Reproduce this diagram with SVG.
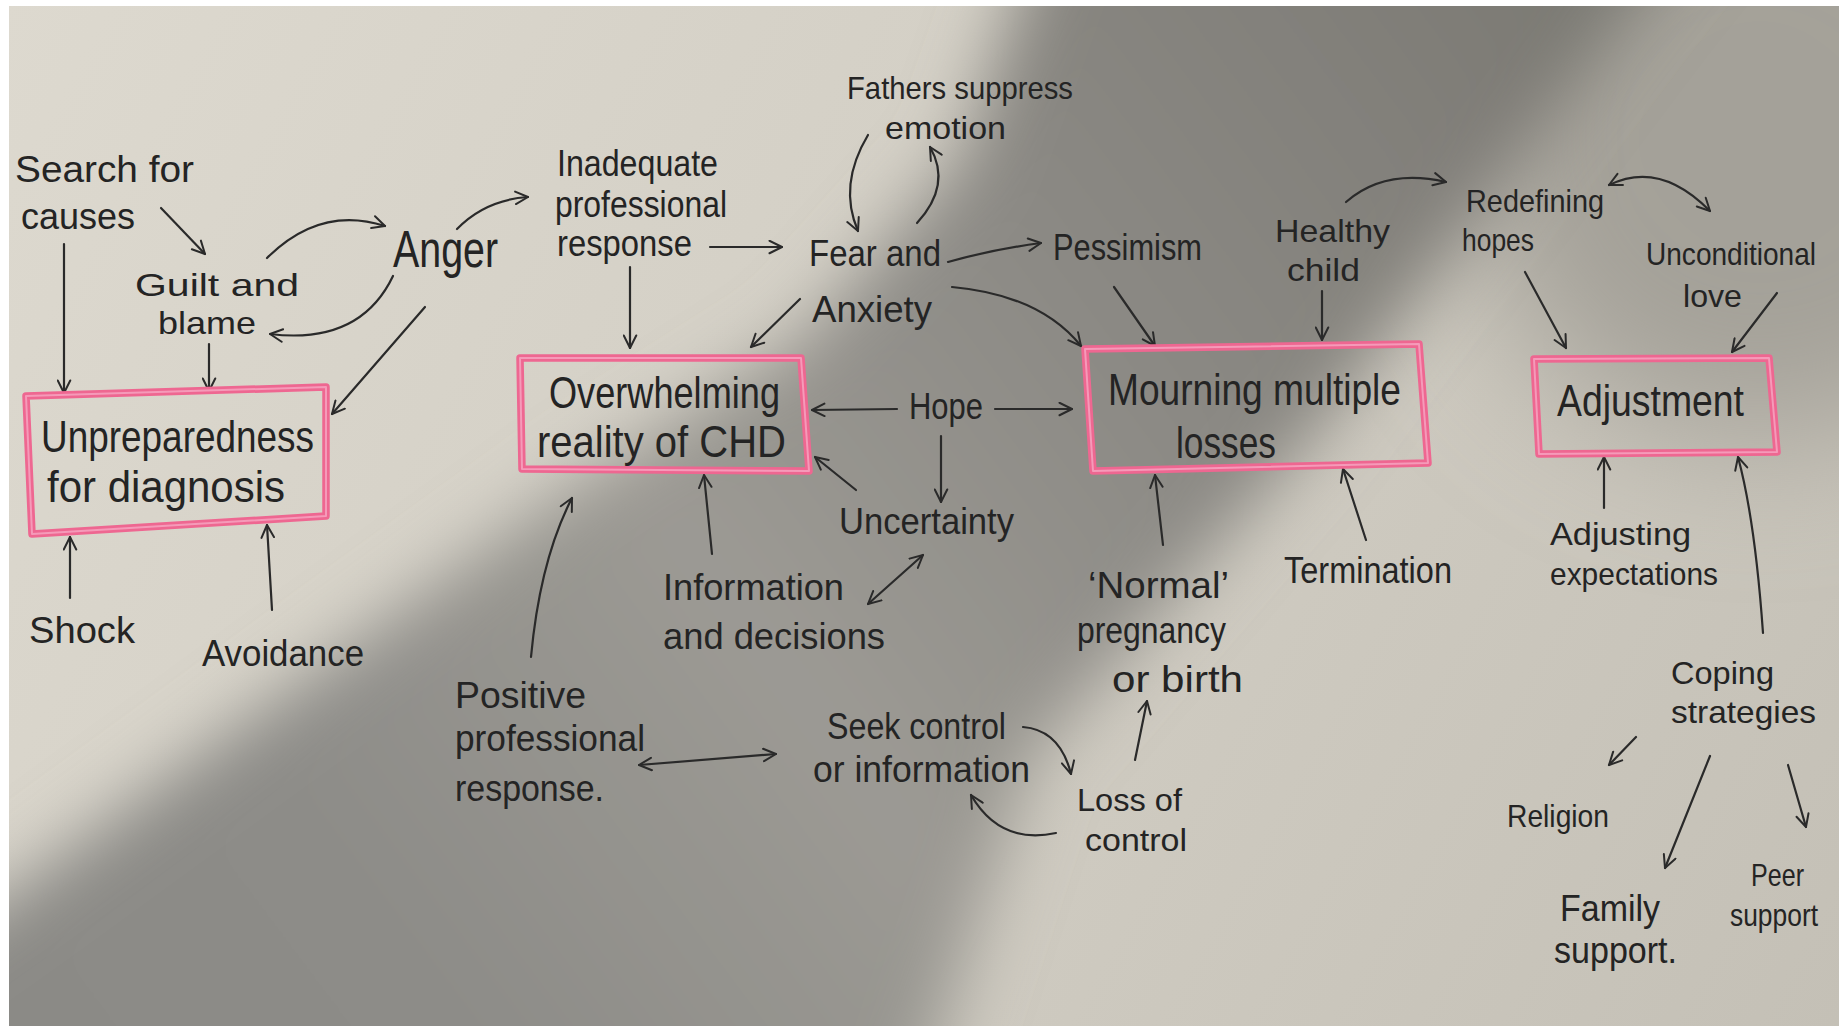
<svg xmlns="http://www.w3.org/2000/svg" width="1839" height="1026" viewBox="0 0 1839 1026">
  <defs>
    <style>
      .t { font-family: "Liberation Sans", Arial, sans-serif; font-size: 36px; fill: #242424; }
      .s { font-size: 32px; }
      .bx { font-size: 44px; }
      .big { font-size: 52px; }
      .frame { fill: none; stroke: #ee6791; stroke-width: 7.5; stroke-linejoin: round; }
      .frame-hi { fill: none; stroke: #f59ab9; stroke-width: 2; stroke-linejoin: round; }
      .c { fill: none; stroke: #2a2a2a; stroke-width: 2.2; stroke-linecap: round; marker-end: url(#ah); }
      .c2 { marker-start: url(#ah); }
    </style>
    <marker id="ah" viewBox="0 0 12 12" refX="11" refY="6" markerWidth="15" markerHeight="15" markerUnits="userSpaceOnUse" orient="auto-start-reverse">
      <path d="M1,1 L11,6 L1,11" fill="none" stroke="#2a2a2a" stroke-width="1.6" stroke-linecap="round" stroke-linejoin="round"/>
    </marker>
    <linearGradient id="paper" gradientUnits="userSpaceOnUse" x1="0" y1="0" x2="1839" y2="1026">
      <stop offset="0" stop-color="#ddd9cf"/>
      <stop offset="0.5" stop-color="#d2cec4"/>
      <stop offset="1" stop-color="#c4c0b6"/>
    </linearGradient>
    <linearGradient id="shade" gradientUnits="userSpaceOnUse" x1="1500" y1="-100" x2="0" y2="1026">
      <stop offset="0" stop-color="#7c7a74"/>
      <stop offset="0.3" stop-color="#8b8984"/>
      <stop offset="0.55" stop-color="#9c9a94"/>
      <stop offset="0.8" stop-color="#8d8c88"/>
      <stop offset="1" stop-color="#8b8a86"/>
    </linearGradient>
    <filter id="soft" x="-20%" y="-20%" width="140%" height="140%">
      <feGaussianBlur stdDeviation="34"/>
    </filter>
    <filter id="haze" x="-50%" y="-50%" width="200%" height="200%">
      <feGaussianBlur stdDeviation="70"/>
    </filter>
  </defs>

  <!-- sheet of paper with a soft diagonal shadow across it -->
  <rect x="0" y="0" width="1839" height="1026" fill="#ffffff"/>
  <rect x="9" y="6" width="1830" height="1020" fill="url(#paper)"/>
  <svg x="9" y="6" width="1830" height="1020" viewBox="9 6 1830 1020" overflow="hidden">
    <ellipse cx="1760" cy="140" rx="300" ry="300" fill="#a4a199" filter="url(#haze)"/>
    <polygon points="1070,-150 1760,-150 1640,0 1317,430 1030,760 900,1160 -200,1160 -200,1040 0,900 330,660 580,480 800,340 960,160" fill="url(#shade)" filter="url(#soft)"/>
  </svg>

  <!-- connectors -->
  <g id="connectors">
    <path class="c" d="M161,208 L205,254"/>
    <path class="c" d="M64,244 L64,393"/>
    <path class="c" d="M209,344 L209,391"/>
    <path class="c" d="M267,258 Q320,205 385,226"/>
    <path class="c" d="M393,276 Q360,345 270,334"/>
    <path class="c" d="M457,229 Q485,200 528,197"/>
    <path class="c" d="M425,307 L332,414"/>
    <path class="c" d="M70,598 L70,537"/>
    <path class="c" d="M272,610 L267,525"/>
    <path class="c" d="M630,267 L630,348"/>
    <path class="c" d="M710,247 L782,247"/>
    <path class="c" d="M868,135 Q838,185 858,231"/>
    <path class="c" d="M917,223 Q952,185 930,147"/>
    <path class="c" d="M948,262 Q990,250 1041,243"/>
    <path class="c" d="M952,287 Q1040,295 1081,346"/>
    <path class="c" d="M800,299 L751,347"/>
    <path class="c" d="M897,409 L812,410"/>
    <path class="c" d="M995,409 L1072,409"/>
    <path class="c" d="M941,436 L941,502"/>
    <path class="c" d="M856,490 L815,457"/>
    <path class="c" d="M712,554 L704,475"/>
    <path class="c c2" d="M868,604 L923,555"/>
    <path class="c" d="M531,657 Q540,560 572,498"/>
    <path class="c c2" d="M639,765 L776,754"/>
    <path class="c" d="M1023,727 Q1060,730 1071,774"/>
    <path class="c" d="M1056,833 Q1000,845 971,795"/>
    <path class="c" d="M1135,760 L1147,701"/>
    <path class="c" d="M1163,545 L1155,475"/>
    <path class="c" d="M1114,287 L1155,346"/>
    <path class="c" d="M1366,540 L1343,469"/>
    <path class="c" d="M1322,291 L1322,340"/>
    <path class="c" d="M1346,202 Q1385,168 1446,182"/>
    <path class="c c2" d="M1609,185 Q1660,160 1710,211"/>
    <path class="c" d="M1525,272 L1566,348"/>
    <path class="c" d="M1777,293 L1732,352"/>
    <path class="c" d="M1604,508 L1604,457"/>
    <path class="c" d="M1763,633 Q1755,520 1738,457"/>
    <path class="c" d="M1636,737 L1609,765"/>
    <path class="c" d="M1710,756 L1665,868"/>
    <path class="c" d="M1788,765 L1806,827"/>
  </g>

  <!-- boxed themes -->
  <g id="unpreparedness">
    <polygon class="frame" points="26,396 326,387 326,516 32,534"/>
    <polygon class="frame-hi" points="26,396 326,387 326,516 32,534"/>
    <text class="t bx" x="41" y="452" textLength="273" lengthAdjust="spacingAndGlyphs">Unpreparedness</text>
    <text class="t bx" x="47" y="502" textLength="238" lengthAdjust="spacingAndGlyphs">for diagnosis</text>
  </g>
  <g id="overwhelming">
    <polygon class="frame" points="520,358 801,358 809,471 522,469"/>
    <polygon class="frame-hi" points="520,358 801,358 809,471 522,469"/>
    <text class="t bx" x="549" y="408" textLength="231" lengthAdjust="spacingAndGlyphs">Overwhelming</text>
    <text class="t bx" x="537" y="457" textLength="249" lengthAdjust="spacingAndGlyphs">reality of CHD</text>
  </g>
  <g id="mourning">
    <polygon class="frame" points="1085,349 1419,344 1428,463 1093,471"/>
    <polygon class="frame-hi" points="1085,349 1419,344 1428,463 1093,471"/>
    <text class="t bx" x="1108" y="405" textLength="293" lengthAdjust="spacingAndGlyphs">Mourning multiple</text>
    <text class="t bx" x="1176" y="458" textLength="100" lengthAdjust="spacingAndGlyphs">losses</text>
  </g>
  <g id="adjustment">
    <polygon class="frame" points="1534,359 1769,358 1777,452 1539,454"/>
    <polygon class="frame-hi" points="1534,359 1769,358 1777,452 1539,454"/>
    <text class="t bx" x="1557" y="416" textLength="187" lengthAdjust="spacingAndGlyphs">Adjustment</text>
  </g>

  <!-- sub-themes -->
  <g id="search-causes">
    <text class="t" x="15" y="182" textLength="179" lengthAdjust="spacingAndGlyphs">Search for</text>
    <text class="t" x="21" y="229" textLength="114" lengthAdjust="spacingAndGlyphs">causes</text>
  </g>
  <g id="guilt-blame">
    <text class="t s" x="135" y="296" textLength="164" lengthAdjust="spacingAndGlyphs">Guilt and</text>
    <text class="t s" x="158" y="334" textLength="98" lengthAdjust="spacingAndGlyphs">blame</text>
  </g>
  <g id="anger">
    <text class="t big" x="393" y="267" textLength="105" lengthAdjust="spacingAndGlyphs">Anger</text>
  </g>
  <g id="shock">
    <text class="t" x="29" y="643" textLength="106" lengthAdjust="spacingAndGlyphs">Shock</text>
  </g>
  <g id="avoidance">
    <text class="t" x="202" y="666" textLength="162" lengthAdjust="spacingAndGlyphs">Avoidance</text>
  </g>
  <g id="inadequate-response">
    <text class="t" x="557" y="176" textLength="161" lengthAdjust="spacingAndGlyphs">Inadequate</text>
    <text class="t" x="555" y="217" textLength="172" lengthAdjust="spacingAndGlyphs">professional</text>
    <text class="t" x="557" y="256" textLength="135" lengthAdjust="spacingAndGlyphs">response</text>
  </g>
  <g id="fathers">
    <text class="t s" x="847" y="99" textLength="226" lengthAdjust="spacingAndGlyphs">Fathers suppress</text>
    <text class="t s" x="885" y="139" textLength="121" lengthAdjust="spacingAndGlyphs">emotion</text>
  </g>
  <g id="fear-anxiety">
    <text class="t" x="809" y="266" textLength="132" lengthAdjust="spacingAndGlyphs">Fear and</text>
    <text class="t" x="812" y="322" textLength="120" lengthAdjust="spacingAndGlyphs">Anxiety</text>
  </g>
  <g id="hope">
    <text class="t" x="909" y="419" textLength="74" lengthAdjust="spacingAndGlyphs">Hope</text>
  </g>
  <g id="uncertainty">
    <text class="t" x="839" y="534" textLength="175" lengthAdjust="spacingAndGlyphs">Uncertainty</text>
  </g>
  <g id="information">
    <text class="t" x="663" y="600" textLength="181" lengthAdjust="spacingAndGlyphs">Information</text>
    <text class="t" x="663" y="649" textLength="222" lengthAdjust="spacingAndGlyphs">and decisions</text>
  </g>
  <g id="positive-response">
    <text class="t" x="455" y="708" textLength="131" lengthAdjust="spacingAndGlyphs">Positive</text>
    <text class="t" x="455" y="751" textLength="190" lengthAdjust="spacingAndGlyphs">professional</text>
    <text class="t" x="455" y="801" textLength="149" lengthAdjust="spacingAndGlyphs">response.</text>
  </g>
  <g id="seek-control">
    <text class="t" x="827" y="739" textLength="179" lengthAdjust="spacingAndGlyphs">Seek control</text>
    <text class="t" x="813" y="782" textLength="217" lengthAdjust="spacingAndGlyphs">or information</text>
  </g>
  <g id="loss-control">
    <text class="t s" x="1077" y="811" textLength="105" lengthAdjust="spacingAndGlyphs">Loss of</text>
    <text class="t s" x="1085" y="851" textLength="102" lengthAdjust="spacingAndGlyphs">control</text>
  </g>
  <g id="normal-pregnancy">
    <text class="t" x="1088" y="598" textLength="141" lengthAdjust="spacingAndGlyphs">‘Normal’</text>
    <text class="t" x="1077" y="643" textLength="149" lengthAdjust="spacingAndGlyphs">pregnancy</text>
    <text class="t" x="1112" y="692" textLength="131" lengthAdjust="spacingAndGlyphs">or birth</text>
  </g>
  <g id="pessimism">
    <text class="t" x="1053" y="260" textLength="149" lengthAdjust="spacingAndGlyphs">Pessimism</text>
  </g>
  <g id="termination">
    <text class="t" x="1284" y="583" textLength="168" lengthAdjust="spacingAndGlyphs">Termination</text>
  </g>
  <g id="healthy-child">
    <text class="t s" x="1275" y="242" textLength="115" lengthAdjust="spacingAndGlyphs">Healthy</text>
    <text class="t s" x="1287" y="281" textLength="73" lengthAdjust="spacingAndGlyphs">child</text>
  </g>
  <g id="redefining-hopes">
    <text class="t s" x="1466" y="212" textLength="138" lengthAdjust="spacingAndGlyphs">Redefining</text>
    <text class="t s" x="1462" y="251" textLength="72" lengthAdjust="spacingAndGlyphs">hopes</text>
  </g>
  <g id="unconditional-love">
    <text class="t s" x="1646" y="265" textLength="170" lengthAdjust="spacingAndGlyphs">Unconditional</text>
    <text class="t s" x="1683" y="307" textLength="59" lengthAdjust="spacingAndGlyphs">love</text>
  </g>
  <g id="adjusting-expectations">
    <text class="t s" x="1550" y="545" textLength="141" lengthAdjust="spacingAndGlyphs">Adjusting</text>
    <text class="t s" x="1550" y="585" textLength="168" lengthAdjust="spacingAndGlyphs">expectations</text>
  </g>
  <g id="coping">
    <text class="t s" x="1671" y="684" textLength="103" lengthAdjust="spacingAndGlyphs">Coping</text>
    <text class="t s" x="1671" y="723" textLength="145" lengthAdjust="spacingAndGlyphs">strategies</text>
  </g>
  <g id="religion">
    <text class="t s" x="1507" y="827" textLength="102" lengthAdjust="spacingAndGlyphs">Religion</text>
  </g>
  <g id="family-support">
    <text class="t" x="1560" y="921" textLength="100" lengthAdjust="spacingAndGlyphs">Family</text>
    <text class="t" x="1554" y="963" textLength="123" lengthAdjust="spacingAndGlyphs">support.</text>
  </g>
  <g id="peer-support">
    <text class="t s" x="1751" y="886" textLength="53" lengthAdjust="spacingAndGlyphs">Peer</text>
    <text class="t s" x="1730" y="926" textLength="88" lengthAdjust="spacingAndGlyphs">support</text>
  </g>
</svg>
